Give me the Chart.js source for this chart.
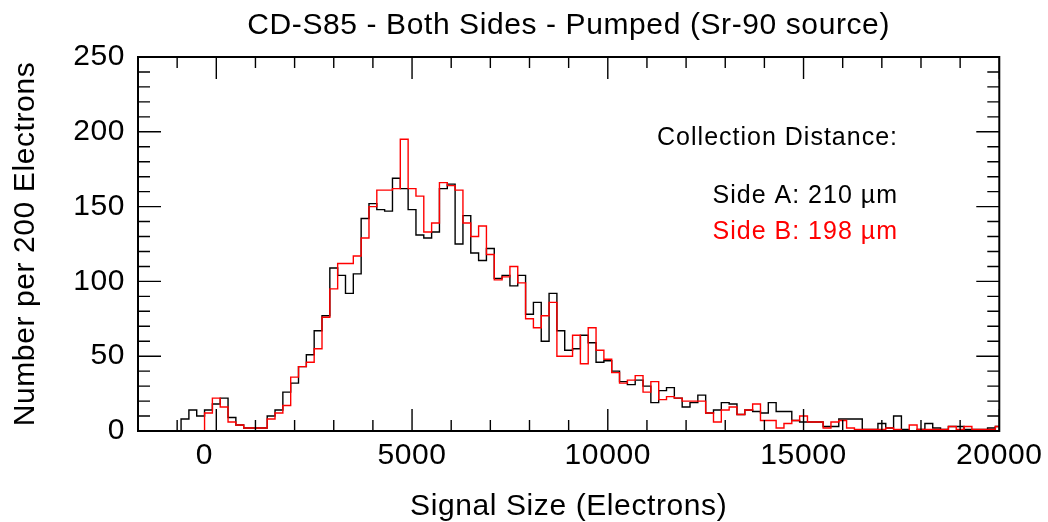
<!DOCTYPE html>
<html>
<head>
<meta charset="utf-8">
<script src="https://cdn.jsdelivr.net/npm/chart.js@4/dist/chart.umd.min.js"></script>
<style>
html,body{margin:0;padding:0;background:#fff;}
#wrap{width:1048px;height:522px;position:relative;}
canvas{display:block;}
</style>
</head>
<body>
<div id="wrap"><canvas id="c" width="1048" height="522"></canvas></div>
<script>
// ---- data ----
const chartTitle = 'CD-S85 - Both Sides - Pumped (Sr-90 source)';
const xTitle = 'Signal Size (Electrons)';
const yTitle = 'Number per 200 Electrons';
const legendHeader = 'Collection Distance:';
const seriesLabels = ['Side A: 210 \u00b5m', 'Side B: 198 \u00b5m'];

const binCenters = [
  -1200,-1000,-800,-600,-400,-200,0,200,400,600,
  800,1000,1200,1400,1600,1800,2000,2200,2400,2600,
  2800,3000,3200,3400,3600,3800,4000,4200,4400,4600,
  4800,5000,5200,5400,5600,5800,6000,6200,6400,6600,
  6800,7000,7200,7400,7600,7800,8000,8200,8400,8600,
  8800,9000,9200,9400,9600,9800,10000,10200,10400,10600,
  10800,11000,11200,11400,11600,11800,12000,12200,12400,12600,
  12800,13000,13200,13400,13600,13800,14000,14200,14400,14600,
  14800,15000,15200,15400,15600,15800,16000,16200,16400,16600,
  16800,17000,17200,17400,17600,17800,18000,18200,18400,18600,
  18800,19000,19200,19400,19600,19800,20000
];
const binWidth = 200;

const sideA = [
  0,0,8,14,10,14,18,22,9,4,
  2,2,2,10,14,26,32,43,51,67,
  77,109,104,92,105,142,152,148,147,169,
  162,148,131,129,133,162,165,125,144,119,
  114,122,102,104,97,104,78,86,60,92,
  67,54,55,64,59,46,47,40,33,31,
  34,30,19,27,29,22,16,19,24,12,
  14,19,18,11,14,13,12,19,13,13,
  7,6,6,6,3,3,8,8,8,1,
  1,5,2,10,1,0,1,5,2,1,
  3,3,1,1,1,2,3
];
const sideB = [
  0,0,0,0,0,12,22,16,6,4,
  2,2,2,8,12,17,36,43,46,55,
  76,95,112,112,117,129,150,161,161,162,
  195,162,157,133,139,166,164,161,139,130,
  137,118,101,103,110,99,75,69,77,86,
  50,50,64,45,69,54,48,39,32,34,
  37,26,33,21,23,22,20,20,20,12,
  6,14,16,11,14,18,7,7,2,5,
  7,10,6,6,2,6,7,2,1,1,
  1,1,2,1,0,4,1,1,1,1,
  3,1,3,1,1,1,3
];

const xTickValues = [0, 5000, 10000, 15000, 20000];
const yTickValues = [0, 50, 100, 150, 200, 250];
const xRange = [-2000, 20000];
const yRange = [0, 250];
const xMinorStep = 1000, xMajorStep = 5000;
const yMinorStep = 10, yMajorStep = 50;

// ---- build step points (bin left edges + final right edge) ----
function stepPoints(values) {
  const pts = binCenters.map((c, i) => ({x: c - binWidth / 2, y: values[i]}));
  const last = binCenters.length - 1;
  pts.push({x: binCenters[last] + binWidth / 2, y: values[last]});
  return pts;
}

const FONT = '"Liberation Sans", Arial, Helvetica, sans-serif';
Chart.defaults.font.family = FONT;
Chart.defaults.color = '#000';

const spacingPlugin = {
  id: 'spacing',
  beforeDraw(chart) { chart.ctx.letterSpacing = '0.6px'; }
};

const frameTicks = {
  id: 'frameTicks',
  afterDatasetsDraw(chart) {
    const {ctx, chartArea: a, scales: {x, y}} = chart;
    ctx.save();
    ctx.strokeStyle = '#000';
    ctx.lineWidth = 1.4;
    ctx.beginPath();
    for (let v = xRange[0]; v <= xRange[1]; v += xMinorStep) {
      const px = x.getPixelForValue(v);
      const len = (v % xMajorStep === 0) ? 22 : 11;
      ctx.moveTo(px, a.bottom); ctx.lineTo(px, a.bottom - len);
      ctx.moveTo(px, a.top); ctx.lineTo(px, a.top + len);
    }
    for (let v = yRange[0]; v <= yRange[1]; v += yMinorStep) {
      const py = y.getPixelForValue(v);
      const len = (v % yMajorStep === 0) ? 23 : 12;
      ctx.moveTo(a.left, py); ctx.lineTo(a.left + len, py);
      ctx.moveTo(a.right, py); ctx.lineTo(a.right - len, py);
    }
    ctx.stroke();
    ctx.lineWidth = 2;
    ctx.strokeRect(a.left, a.top, a.right - a.left, a.bottom - a.top);
    ctx.restore();
  }
};

const textPlugin = {
  id: 'texts',
  afterDraw(chart) {
    const {ctx, chartArea: a} = chart;
    ctx.save();
    ctx.letterSpacing = '0.6px';
    ctx.fillStyle = '#000';
    ctx.textBaseline = 'alphabetic';
    ctx.textAlign = 'center';
    ctx.font = '30px ' + FONT;
    ctx.fillText(chartTitle, (a.left + a.right) / 2, 34);

    ctx.letterSpacing = '1px';
    ctx.font = '25px ' + FONT;
    ctx.textAlign = 'right';
    const rx = 898;
    ctx.fillStyle = '#000';
    ctx.fillText(legendHeader, rx, 145);
    ctx.fillText(seriesLabels[0], rx, 203);
    ctx.fillStyle = '#ff0000';
    ctx.fillText(seriesLabels[1], rx, 239);
    ctx.restore();
  }
};

new Chart(document.getElementById('c'), {
  type: 'line',
  data: {
    datasets: [
      {
        label: seriesLabels[0],
        data: stepPoints(sideA),
        borderColor: '#000000',
        borderWidth: 1.4,
        stepped: 'before',
        pointRadius: 0,
        fill: false,
        order: 2
      },
      {
        label: seriesLabels[1],
        data: stepPoints(sideB),
        borderColor: '#ff0000',
        borderWidth: 1.4,
        stepped: 'before',
        pointRadius: 0,
        fill: false,
        order: 1
      }
    ]
  },
  options: {
    responsive: false,
    animation: false,
    devicePixelRatio: 1,
    layout: {padding: {left: 0, right: 47, top: 57, bottom: 0}},
    plugins: {
      legend: {display: false},
      tooltip: {enabled: false},
      title: {display: false}
    },
    scales: {
      x: {
        type: 'linear',
        min: xRange[0],
        max: xRange[1],
        afterBuildTicks(s) { s.ticks = xTickValues.map(v => ({value: v})); },
        afterFit(s) { s.height = 91; },
        grid: {display: false, drawTicks: false},
        border: {display: false},
        ticks: {
          font: {size: 30},
          color: '#000',
          padding: 7,
          maxRotation: 0,
          autoSkip: false,
          callback: (v) => v === 0 ? '0\u2007\u2009' : String(v)
        },
        title: {
          display: true,
          text: xTitle,
          color: '#000',
          font: {size: 30, lineHeight: 1},
          padding: {top: 0, bottom: 0}
        }
      },
      y: {
        type: 'linear',
        min: yRange[0],
        max: yRange[1],
        afterBuildTicks(s) { s.ticks = yTickValues.map(v => ({value: v})); },
        afterFit(s) { s.width = 138; },
        grid: {display: false, drawTicks: false},
        border: {display: false},
        ticks: {
          font: {size: 30},
          color: '#000',
          padding: 13,
          autoSkip: false,
          callback: (v) => String(v)
        },
        title: {
          display: true,
          text: yTitle,
          color: '#000',
          font: {size: 30, lineHeight: 1},
          padding: {top: 11, bottom: 0}
        }
      }
    }
  },
  plugins: [spacingPlugin, frameTicks, textPlugin]
});
</script>
</body>
</html>
